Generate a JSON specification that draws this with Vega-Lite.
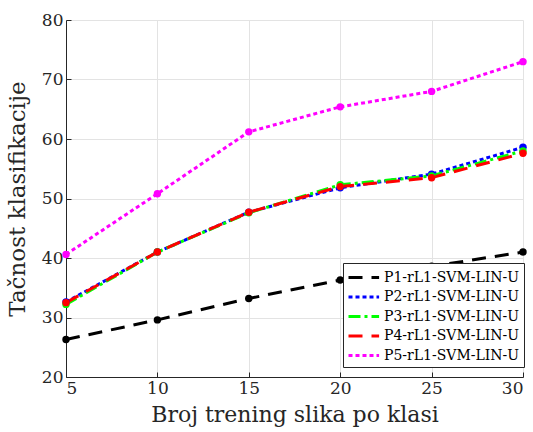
{
  "$schema": "https://vega.github.io/schema/vega-lite/v6.json",
  "width": 457,
  "height": 357,
  "autosize": {"type": "none"},
  "padding": {"left": 66, "top": 20, "right": 10, "bottom": 55},
  "background": "white",
  "config": {
    "font": "DejaVu Serif",
    "view": {"stroke": null},
    "axis": {
      "labelFont": "DejaVu Serif",
      "titleFont": "DejaVu Serif",
      "labelColor": "#262626",
      "titleColor": "#262626",
      "domainColor": "#262626",
      "tickColor": "#262626",
      "gridColor": "#e3e3e3",
      "titleFontWeight": "normal",
      "labelFontSize": 17
    },
    "legend": {
      "labelFont": "DejaVu Serif"
    }
  },
  "data": {
    "values": [
      {"n": 5, "acc": 26.3, "s": "P1-rL1-SVM-LIN-U"},
      {"n": 10, "acc": 29.6, "s": "P1-rL1-SVM-LIN-U"},
      {"n": 15, "acc": 33.2, "s": "P1-rL1-SVM-LIN-U"},
      {"n": 20, "acc": 36.3, "s": "P1-rL1-SVM-LIN-U"},
      {"n": 25, "acc": 38.6, "s": "P1-rL1-SVM-LIN-U"},
      {"n": 30, "acc": 41.0, "s": "P1-rL1-SVM-LIN-U"},
      {"n": 5, "acc": 32.6, "s": "P2-rL1-SVM-LIN-U"},
      {"n": 10, "acc": 41.0, "s": "P2-rL1-SVM-LIN-U"},
      {"n": 15, "acc": 47.7, "s": "P2-rL1-SVM-LIN-U"},
      {"n": 20, "acc": 51.8, "s": "P2-rL1-SVM-LIN-U"},
      {"n": 25, "acc": 54.1, "s": "P2-rL1-SVM-LIN-U"},
      {"n": 30, "acc": 58.6, "s": "P2-rL1-SVM-LIN-U"},
      {"n": 5, "acc": 32.2, "s": "P3-rL1-SVM-LIN-U"},
      {"n": 10, "acc": 41.0, "s": "P3-rL1-SVM-LIN-U"},
      {"n": 15, "acc": 47.6, "s": "P3-rL1-SVM-LIN-U"},
      {"n": 20, "acc": 52.3, "s": "P3-rL1-SVM-LIN-U"},
      {"n": 25, "acc": 53.8, "s": "P3-rL1-SVM-LIN-U"},
      {"n": 30, "acc": 58.0, "s": "P3-rL1-SVM-LIN-U"},
      {"n": 5, "acc": 32.5, "s": "P4-rL1-SVM-LIN-U"},
      {"n": 10, "acc": 41.0, "s": "P4-rL1-SVM-LIN-U"},
      {"n": 15, "acc": 47.7, "s": "P4-rL1-SVM-LIN-U"},
      {"n": 20, "acc": 52.0, "s": "P4-rL1-SVM-LIN-U"},
      {"n": 25, "acc": 53.5, "s": "P4-rL1-SVM-LIN-U"},
      {"n": 30, "acc": 57.6, "s": "P4-rL1-SVM-LIN-U"},
      {"n": 5, "acc": 40.6, "s": "P5-rL1-SVM-LIN-U"},
      {"n": 10, "acc": 50.8, "s": "P5-rL1-SVM-LIN-U"},
      {"n": 15, "acc": 61.2, "s": "P5-rL1-SVM-LIN-U"},
      {"n": 20, "acc": 65.4, "s": "P5-rL1-SVM-LIN-U"},
      {"n": 25, "acc": 68.0, "s": "P5-rL1-SVM-LIN-U"},
      {"n": 30, "acc": 73.0, "s": "P5-rL1-SVM-LIN-U"}
    ]
  },
  "encoding": {
    "x": {
      "field": "n", "type": "quantitative",
      "scale": {"domain": [5, 30], "nice": false},
      "axis": {"values": [5, 10, 15, 20, 25, 30], "title": "Broj trening slika po klasi", "titleFontSize": 22, "tickSize": -5, "labelPadding": 8, "titlePadding": 8, "grid": true}
    },
    "y": {
      "field": "acc", "type": "quantitative",
      "scale": {"domain": [20, 80], "nice": false},
      "axis": {"values": [20, 30, 40, 50, 60, 70, 80], "title": "Tačnost klasifikacije", "titleFontSize": 23, "tickSize": -5, "labelPadding": 8, "titlePadding": 12, "grid": true}
    },
    "color": {
      "field": "s", "type": "nominal",
      "scale": {
        "domain": ["P1-rL1-SVM-LIN-U", "P2-rL1-SVM-LIN-U", "P3-rL1-SVM-LIN-U", "P4-rL1-SVM-LIN-U", "P5-rL1-SVM-LIN-U"],
        "range": ["#000000", "#0000ff", "#00ff00", "#ff0000", "#ff00ff"]
      },
      "legend": {
        "title": null,
        "orient": "none",
        "legendX": 277,
        "legendY": 243,
        "fillColor": "white",
        "strokeColor": "#262626",
        "padding": 4,
        "symbolType": "M-1,0H2.4",
        "symbolStrokeWidth": 3,
        "symbolSize": 324,
        "labelFont": "DejaVu Serif",
        "labelFontSize": 14,
        "labelColor": "#000000",
        "rowPadding": 1.5,
        "labelOffset": 16
      }
    }
  },
  "layer": [
    {
      "mark": {"type": "line", "strokeWidth": 3},
      "encoding": {
        "strokeDash": {
          "field": "s", "type": "nominal",
          "scale": {
            "domain": ["P1-rL1-SVM-LIN-U", "P2-rL1-SVM-LIN-U", "P3-rL1-SVM-LIN-U", "P4-rL1-SVM-LIN-U", "P5-rL1-SVM-LIN-U"],
            "range": [[14, 9], [4, 3], [12, 4, 3, 4], [14, 9], [4, 3]]
          },
          "legend": {
            "title": null,
            "orient": "none",
            "legendX": 277,
            "legendY": 243,
            "fillColor": "white",
            "strokeColor": "#262626",
            "padding": 4,
            "symbolType": "M-1,0H2.4",
            "symbolStrokeWidth": 3,
            "symbolSize": 324,
            "labelFont": "DejaVu Serif",
            "labelFontSize": 14,
            "labelColor": "#000000",
            "rowPadding": 1.5,
            "labelOffset": 16
          }
        }
      }
    },
    {
      "mark": {"type": "point", "filled": true, "size": 55, "opacity": 1},
      "encoding": {}
    }
  ]
}
